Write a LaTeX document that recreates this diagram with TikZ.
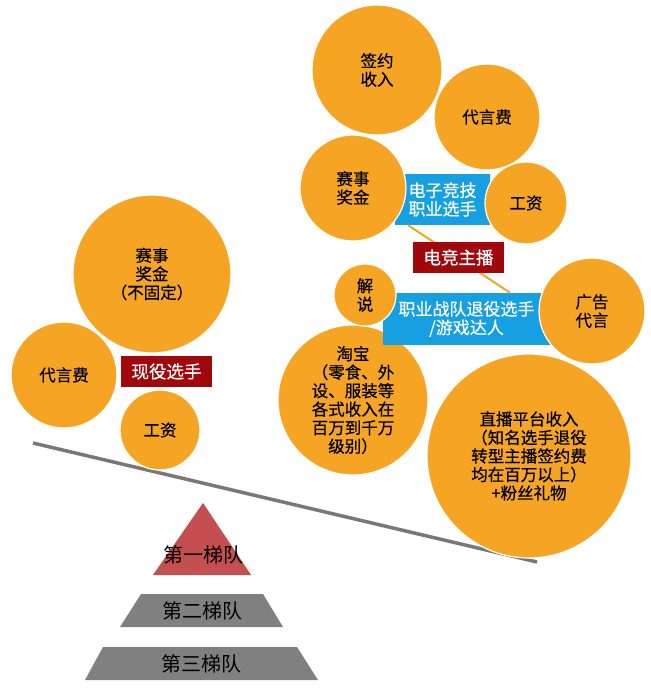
\documentclass[tikz,border=0pt]{standalone}
\usepackage{fontspec}
\setmainfont{Noto Sans CJK SC}
\newfontfamily\heavycjk[FakeBold=0.5]{Noto Sans CJK SC}
\usetikzlibrary{calc}
\definecolor{orangeC}{RGB}{245,165,35}
\definecolor{blueC}{RGB}{22,160,225}
\definecolor{redC}{RGB}{160,8,12}
\definecolor{triC}{RGB}{196,78,80}
\definecolor{trapC}{RGB}{128,128,128}
\definecolor{lineC}{RGB}{120,120,120}
\tikzset{
  circ/.style={circle, fill=orangeC, draw=white, line width=1.2pt, inner sep=0pt, align=center,
    font=\heavycjk\fontsize{16.5}{18.5}\selectfont, text=black},
  bluebox/.style={rectangle, fill=blueC, inner sep=0pt, align=center, text=white,
    font=\heavycjk\fontsize{17}{18.5}\selectfont},
  redbox/.style={rectangle, fill=redC, inner sep=0pt, align=center, text=white,
    font=\heavycjk\fontsize{17.5}{19}\selectfont},
  tier/.style={fill=#1, draw=none},
  tiertext/.style={text=black, font=\fontsize{20}{22}\selectfont, inner sep=0pt},
  beam/.style={draw=lineC, line width=3.5pt},
  link/.style={draw=orangeC, line width=2pt}
}
\begin{document}
\begin{tikzpicture}[x=1pt,y=-1pt]
\useasboundingbox (0,0) rectangle (650,692);
% beam
\coordinate (bl) at (33,443);
\coordinate (br) at (537,562);
\draw[beam] (bl) -- (br);
% lower right circles under the boxes
\node[circ, minimum size=150pt] (tao) at (353,400) {淘宝\\（零食、外\\设、服装等\\各式收入在\\百万到千万\\级别）};
\node[circ, minimum size=204pt] (live) at (529,456) {直播平台收入\\（知名选手退役\\转型主播签约费\\均在百万以上）\\+粉丝礼物};
% boxes (right)
\node[bluebox, minimum width=95pt, minimum height=51pt] (eb) at (442.5,199.5) {电子竞技\\职业选手};
\node[bluebox, minimum width=167pt, minimum height=52pt] (tb) at (466.5,319) {职业战队退役选手\\/游戏达人};
\draw[link] ($(eb.south west)!0.14!(eb.south east)$) coordinate (la) -- ($(tb.north west)!0.76!(tb.north east)$) coordinate (lb);
\node[redbox, minimum width=91pt, minimum height=31pt] (zb) at (458.5,257.5) {电竞主播};
% right circles
\node[circ, minimum size=130pt] (sign) at (377,70) {签约\\收入};
\node[circ, minimum size=106pt] (adR) at (487,117) {代言费};
\node[circ, minimum size=106pt] (prizeR) at (353,188) {赛事\\奖金};
\node[circ, minimum size=82pt] (wageR) at (526,203) {工资};
\node[circ, minimum size=62pt] (js) at (365,295) {解\\说};
\node[circ, minimum size=106pt] (ad2) at (592,311) {广告\\代言};
% left cluster
\node[circ, minimum size=158pt] (prizeL) at (152,274) {赛事\\奖金\\（不固定）};
\node[circ, minimum size=106pt] (adL) at (64,375) {代言费};
\node[circ, minimum size=80pt] (wageL) at (160,430) {工资};
\node[redbox, minimum width=91pt, minimum height=31pt] (xy) at (166.5,371.5) {现役选手};
% pyramid
\fill[tier=triC] (203,503) -- (251,575) -- (153,575) -- cycle;
\node[tiertext] (t1) at (203,555) {第一梯队};
\fill[tier=trapC] (141,594) -- (263,594) -- (283,627) -- (120,627) -- cycle;
\node[tiertext] (t2) at (202,611) {第二梯队};
\fill[tier=trapC] (103,647) -- (297,647) -- (318,680) -- (85,680) -- cycle;
\node[tiertext] (t3) at (201,664) {第三梯队};
\end{tikzpicture}
\end{document}
